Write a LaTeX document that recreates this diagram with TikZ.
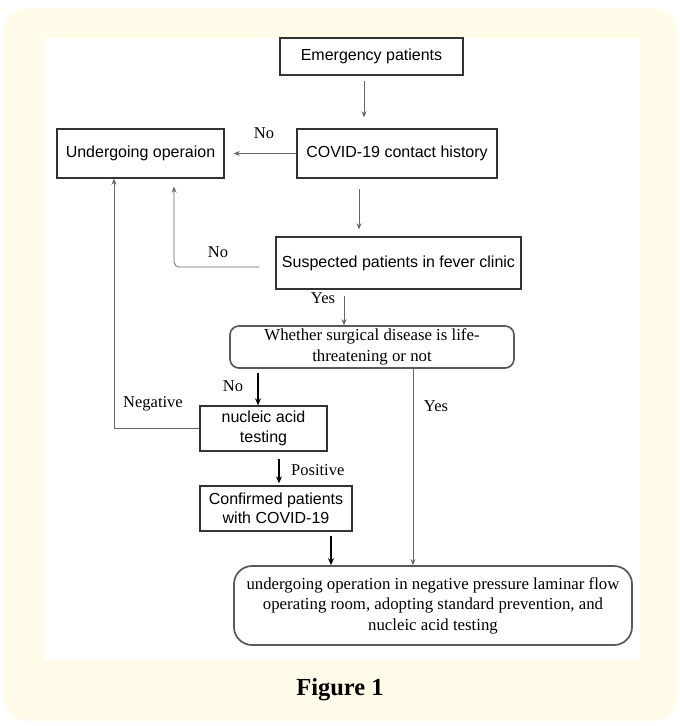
\documentclass[tikz,border=0pt]{standalone}
\usepackage{fontspec}
\setmainfont{Liberation Serif}
\newfontfamily\arialf{Liberation Sans}
\usetikzlibrary{arrows.meta}
\definecolor{yellowbg}{RGB}{255,251,232}
\begin{document}
\begin{tikzpicture}[x=1pt,y=-1pt,
 sbox/.style={draw=black!80, line width=1.4pt, inner sep=0pt, align=center, font=\arialf\fontsize{16}{19.5}\selectfont},
 rbox/.style={draw=black!65, line width=1.7pt, inner sep=0pt, align=center, font=\fontsize{16.8}{20.5}\selectfont},
 thinarr/.style={draw=black!60, line width=0.8pt, -{Stealth[length=6pt,width=5pt]}},
 thickarr/.style={draw=black, line width=1.6pt, -{Stealth[length=7pt,width=6pt]}},
 lab/.style={font=\fontsize{16.5}{19}\selectfont, inner sep=1pt}]
\useasboundingbox (0,0) rectangle (680,726);
\fill[yellowbg, rounded corners=25pt] (3,8) rectangle (677,721);
\fill[white] (44,38) rectangle (640,660);

\node[sbox, minimum width=183pt, minimum height=37pt] (emerg) at (371.5,56.5) {Emergency patients};
\node[sbox, minimum width=200pt, minimum height=49pt] (covid) at (397,153.5) {COVID-19 contact history};
\node[sbox, minimum width=167pt, minimum height=49pt] (undergo) at (140.5,153.5) {Undergoing operaion};
\node[sbox, minimum width=245pt, minimum height=52pt] (susp) at (398.5,263) {Suspected patients in fever clinic};
\node[rbox, rounded corners=9pt, minimum width=284pt, minimum height=42pt] (whether) at (372,347) {Whether surgical disease is life-\\threatening or not};
\node[sbox, minimum width=127pt, minimum height=45pt] (nucleic) at (263.5,428.5) {nucleic acid\\testing};
\node[sbox, minimum width=152pt, minimum height=45pt] (confirmed) at (276,508.5) {Confirmed patients\\with COVID-19};
\node[rbox, rounded corners=18pt, minimum width=398pt, minimum height=79pt] (final) at (433,605.5) {undergoing operation in negative pressure laminar flow\\operating room, adopting standard prevention, and\\nucleic acid testing};

\coordinate (x364) at (364,0);
\coordinate (x359) at (359,0);
\coordinate (x344) at (344,0);
\coordinate (x258) at (258,0);
\coordinate (x279) at (279,0);
\coordinate (x331) at (331,0);
\coordinate (x413) at (413,0);
\coordinate (x174) at (174,0);
\coordinate (x114) at (114,0);
\coordinate (y267) at (0,267);

\draw[thinarr, shorten <=5pt, shorten >=11pt] (emerg.south -| x364) -- (covid.north -| x364);
\draw[thinarr, shorten >=9pt] (covid.west) -- (undergo.east);
\node[lab] (no1) at (264,133) {No};
\draw[thinarr, shorten <=10pt, shorten >=7pt] (covid.south -| x359) -- (susp.north -| x359);
\coordinate (s1) at ([xshift=-16pt]susp.west |- y267);
\draw[thinarr, rounded corners=5pt, shorten >=8pt] (s1) -- (s1 -| x174) -- (undergo.south -| x174);
\node[lab] (no2) at (218,252) {No};
\draw[thinarr, shorten <=6pt] (susp.south -| x344) -- (whether.north -| x344);
\node[lab] (yes1) at (323,298) {Yes};
\draw[thickarr, shorten <=4pt] (whether.south -| x258) -- (nucleic.north -| x258);
\node[lab] (no3) at (233,386) {No};
\draw[thinarr] (nucleic.west) -- (nucleic.west -| x114) -- (undergo.south -| x114);
\node[lab] (neg) at (153,404) {Negative};
\draw[thickarr, shorten <=7pt, shorten >=2pt] (nucleic.south -| x279) -- (confirmed.north -| x279);
\node[lab, anchor=west] (pos) at (290,470) {Positive};
\draw[thickarr, shorten <=4pt] (confirmed.south -| x331) -- (final.north -| x331);
\draw[thinarr] (whether.south -| x413) -- (final.north -| x413);
\node[lab] (yes2) at (436,406) {Yes};

\node[font=\bfseries\fontsize{24.5}{28}\selectfont] (fig) at (340,690) {Figure 1};
\end{tikzpicture}
\end{document}
